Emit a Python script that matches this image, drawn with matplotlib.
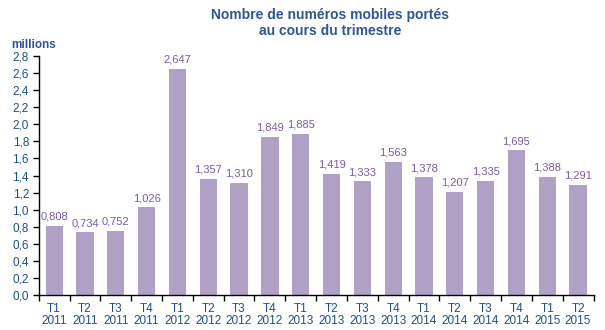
import matplotlib.pyplot as plt
import numpy as np

plt.rcParams['font.family'] = ['Liberation Sans', 'DejaVu Sans']

quarters = ['T1', 'T2', 'T3', 'T4', 'T1', 'T2', 'T3', 'T4', 'T1', 'T2', 'T3', 'T4',
            'T1', 'T2', 'T3', 'T4', 'T1', 'T2']
years = ['2011', '2011', '2011', '2011', '2012', '2012', '2012', '2012', '2013', '2013',
         '2013', '2013', '2014', '2014', '2014', '2014', '2015', '2015']
values = [0.808, 0.734, 0.752, 1.026, 2.647, 1.357, 1.310, 1.849, 1.885, 1.419,
          1.333, 1.563, 1.378, 1.207, 1.335, 1.695, 1.388, 1.291]

bar_color = '#B2A1C7'
label_color = '#7B5AA6'
tick_color = '#1F4E8C'
title_color = '#2F5597'

fig = plt.figure(figsize=(6.05, 3.30), dpi=100)
ax = fig.add_axes([0.064, 0.106, 0.917, 0.724])

x = np.arange(len(values))
ax.bar(x, values, width=0.56, color=bar_color, edgecolor='none')

for xi, v in zip(x, values):
    ax.text(xi, v + 0.05, f"{v:.3f}".replace('.', ','), ha='center', va='bottom',
            fontsize=8, color=label_color)

ax.set_xlim(-0.5, len(values) - 0.5)
ax.set_ylim(0, 2.8)
yt = np.arange(0, 2.81, 0.2)
ax.set_yticks(yt)
ax.set_yticklabels([f"{t:.1f}".replace('.', ',') for t in yt], fontsize=8.5, color=tick_color)

ax.set_xticks(x)
ax.set_xticklabels([f"{q}\n{y}" for q, y in zip(quarters, years)], fontsize=8.5,
                   color=tick_color, linespacing=1.0)
ax.set_xticks(np.arange(-0.5, len(values), 1.0), minor=True)
ax.tick_params(axis='x', which='major', length=0, pad=6)
ax.tick_params(axis='x', which='minor', length=4, width=1, color='black')
ax.tick_params(axis='y', length=4, width=1, color='black', pad=3)

for s in ['top', 'right']:
    ax.spines[s].set_visible(False)
ax.spines['left'].set_linewidth(1)
ax.spines['bottom'].set_linewidth(1)

fig.text(0.018, 0.855, 'millions', fontsize=8.5, fontweight='bold', color=title_color)
fig.text(0.545, 0.975, 'Nombre de numéros mobiles portés\nau cours du trimestre',
         ha='center', va='top', fontsize=10, fontweight='bold', color=title_color,
         linespacing=1.2)

fig.savefig('out.png', dpi=100)
